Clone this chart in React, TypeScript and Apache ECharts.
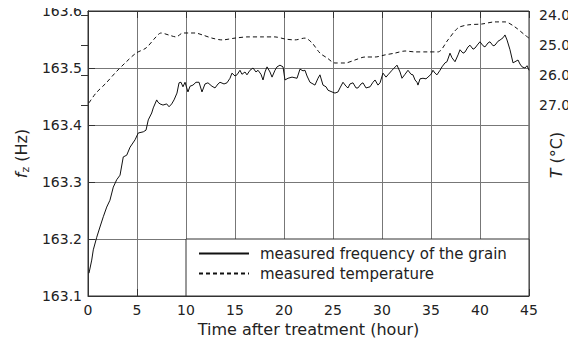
import React, { useEffect, useRef } from "react";
import * as echarts from "echarts";

// Measured resonance frequency of the grain (hour, Hz)
const freqHours = [
  0.1, 0.38, 0.54, 0.89, 1.22, 1.56, 1.91, 2.24, 2.58, 2.93, 3.27, 3.6, 3.95, 4.29, 4.8,
  5.13, 5.64, 5.92, 6.15, 6.5, 6.66, 7.01, 7.14, 7.35, 7.65, 8.03, 8.27, 8.54, 8.78, 9.08,
  9.29, 9.49, 9.69, 9.9, 10.2, 10.41, 10.71, 11.02, 11.33, 11.63, 11.94, 12.24, 12.65,
  12.96, 13.27, 13.47, 13.88, 14.18, 14.49, 14.69, 15.0, 15.2, 15.51, 15.71, 16.02, 16.22,
  16.53, 16.84, 17.14, 17.35, 17.65, 17.86, 18.06, 18.27, 18.57, 18.78, 19.08, 19.29,
  19.59, 19.9, 20.1, 20.41, 20.82, 21.33, 21.63, 21.94, 22.14, 22.35, 22.65, 22.96, 23.16,
  23.47, 23.67, 23.98, 24.29, 24.49, 24.9, 25.2, 25.51, 25.71, 26.02, 26.33, 26.53, 26.73,
  27.04, 27.35, 27.55, 27.86, 28.06, 28.37, 28.78, 29.08, 29.29, 29.59, 29.8, 30.1, 30.41,
  30.61, 31.02, 31.53, 31.84, 32.04, 32.35, 32.65, 32.96, 33.16, 33.37, 33.57, 33.67,
  33.88, 34.18, 34.49, 34.69, 35.0, 35.2, 35.41, 35.61, 35.92, 36.12, 36.43, 36.63, 36.94,
  37.14, 37.45, 37.76, 37.96, 38.27, 38.47, 38.78, 38.98, 39.29, 39.49, 39.8, 40.0, 40.31,
  40.51, 40.82, 41.02, 41.33, 41.53, 41.84, 42.04, 42.35, 42.55, 42.76, 43.06, 43.37,
  43.57, 43.88, 44.08, 44.29, 44.59, 44.8, 45.0,
];
const freqValues = [
  163.14, 163.163, 163.181, 163.203, 163.221, 163.239, 163.256, 163.268, 163.291, 163.304,
  163.312, 163.344, 163.347, 163.361, 163.374, 163.386, 163.388, 163.391, 163.409, 163.421,
  163.43, 163.444, 163.44, 163.437, 163.435, 163.437, 163.432, 163.437, 163.444, 163.456,
  163.474, 163.475, 163.467, 163.475, 163.458, 163.468, 163.47, 163.475, 163.475, 163.458,
  163.472, 163.474, 163.468, 163.465, 163.472, 163.475, 163.472, 163.474, 163.482, 163.491,
  163.486, 163.488, 163.496, 163.489, 163.493, 163.488, 163.496, 163.5, 163.493, 163.496,
  163.489, 163.479, 163.493, 163.502, 163.493, 163.484, 163.496, 163.502, 163.505, 163.502,
  163.479, 163.482, 163.484, 163.482, 163.498, 163.495, 163.496, 163.486, 163.475, 163.472,
  163.47, 163.482, 163.488, 163.47, 163.467, 163.461, 163.458, 163.456, 163.458, 163.465,
  163.475, 163.468, 163.465, 163.472, 163.474, 163.465, 163.465, 163.472, 163.474, 163.465,
  163.467, 163.475, 163.479, 163.47, 163.474, 163.491, 163.484, 163.488, 163.496, 163.505,
  163.493, 163.482, 163.489, 163.496, 163.489, 163.488, 163.479, 163.475, 163.47, 163.481,
  163.482, 163.481, 163.484, 163.489, 163.496, 163.491, 163.488, 163.496, 163.502, 163.509,
  163.511, 163.526, 163.518, 163.511, 163.523, 163.532, 163.526, 163.528, 163.537, 163.54,
  163.533, 163.535, 163.542, 163.546, 163.539, 163.537, 163.544, 163.546, 163.539, 163.54,
  163.547, 163.549, 163.553, 163.558, 163.549, 163.532, 163.509, 163.511, 163.514, 163.507,
  163.502, 163.5, 163.504, 163.496,
];

// Measured temperature (hour, °C)
const tempHours = [
  0.1, 0.82, 1.84, 2.86, 3.88, 4.9, 5.92, 6.94, 7.45, 8.27, 8.98, 9.69, 10.31, 10.92, 11.73,
  12.65, 13.67, 15.0, 16.33, 17.76, 19.08, 20.1, 21.12, 22.14, 22.86, 23.67, 24.39, 25.2,
  26.22, 27.24, 28.27, 29.29, 30.31, 31.33, 32.35, 33.37, 34.69, 35.71, 36.73, 37.76, 38.78,
  40.2, 41.53, 42.55, 43.57, 44.59, 45.0,
];
const tempValues = [
  26.93, 26.6, 26.27, 25.9, 25.57, 25.27, 25.1, 24.73, 24.6, 24.67, 24.73, 24.6, 24.6, 24.6,
  24.67, 24.77, 24.83, 24.77, 24.73, 24.73, 24.73, 24.8, 24.83, 24.77, 24.93, 25.27, 25.43,
  25.6, 25.6, 25.5, 25.4, 25.4, 25.33, 25.27, 25.2, 25.23, 25.23, 25.23, 24.83, 24.43, 24.33,
  24.3, 24.23, 24.23, 24.4, 24.67, 24.77,
];

const tempTicks = [24, 25, 26, 27];
const seriesNames = ["measured frequency of the grain", "measured temperature"];

const FONT = "DejaVu Sans";
const INK = "#222";
const GRID = "#777";

export default function App() {
  const ref = useRef<HTMLDivElement>(null);

  useEffect(() => {
    if (!ref.current) return;
    const chart = echarts.init(ref.current, null, { renderer: "svg" });

    const freqData = freqHours.map((h, i) => [h, freqValues[i]]);
    const tempData = tempHours.map((h, i) => [h, tempValues[i]]);

    chart.setOption({
      animation: false,
      backgroundColor: "#fff",
      textStyle: { fontFamily: FONT, color: INK },
      grid: {
        left: 88,
        right: 47,
        top: 11,
        bottom: 50,
        show: true,
        borderColor: "#333",
        borderWidth: 1,
        backgroundColor: "transparent",
      },
      xAxis: [
        {
          type: "value",
          min: 0,
          max: 45,
          interval: 5,
          position: "bottom",
          name: "Time after treatment (hour)",
          nameLocation: "middle",
          nameGap: 24,
          nameTextStyle: { fontSize: 16, color: INK, fontFamily: FONT },
          axisLine: { show: true, lineStyle: { color: "#333" } },
          axisTick: { show: true, inside: true, length: 7, lineStyle: { color: "#333" } },
          axisLabel: { fontSize: 14, color: INK, margin: 7, fontFamily: FONT },
          splitLine: { show: true, lineStyle: { color: GRID, width: 1 } },
        },
        {
          type: "value",
          min: 0,
          max: 45,
          interval: 5,
          position: "top",
          axisLine: { show: true, lineStyle: { color: "#333" } },
          axisTick: { show: true, inside: true, length: 7, lineStyle: { color: "#333" } },
          axisLabel: { show: false },
          splitLine: { show: false },
        },
      ],
      yAxis: [
        {
          type: "value",
          min: 163.1,
          max: 163.6,
          interval: 0.1,
          position: "left",
          name: "{i|f}{s|z} (Hz)",
          nameLocation: "middle",
          nameGap: 54,
          nameTextStyle: {
            fontSize: 16,
            color: INK,
            fontFamily: FONT,
            rich: {
              i: { fontStyle: "italic", fontSize: 16, fontFamily: FONT, color: INK },
              s: { fontSize: 11, fontFamily: FONT, color: INK, padding: [8, 0, 0, 0] },
            },
          },
          axisLine: { show: true, lineStyle: { color: "#333" } },
          axisTick: { show: true, inside: true, length: 7, lineStyle: { color: "#333" } },
          axisLabel: {
            fontSize: 14,
            color: INK,
            margin: 6,
            fontFamily: FONT,
            formatter: (v: number) => v.toFixed(1),
          },
          splitLine: { show: true, lineStyle: { color: GRID, width: 1 } },
        },
        {
          type: "value",
          inverse: true,
          min: 23.8667,
          max: 33.3667,
          position: "right",
          axisLine: { show: true, lineStyle: { color: "#333" } },
          axisTick: {
            show: true,
            inside: true,
            length: 7,
            customValues: tempTicks,
            lineStyle: { color: "#333" },
          },
          axisLabel: {
            fontSize: 14,
            color: INK,
            margin: 10,
            fontFamily: FONT,
            customValues: tempTicks,
            formatter: (v: number) => v.toFixed(1),
          },
          splitLine: { show: false },
        },
      ],
      legend: {
        orient: "vertical",
        left: 198,
        top: 246,
        padding: 0,
        itemWidth: 50,
        itemHeight: 14,
        itemGap: 5,
        z: 5,
        data: seriesNames,
        itemStyle: { opacity: 0 },
        textStyle: { fontSize: 15, color: INK, fontFamily: FONT, padding: [0, 0, 0, 6] },
      },
      graphic: [
        {
          type: "rect",
          z: 3,
          shape: { x: 186, y: 239, width: 343, height: 57 },
          style: { fill: "#fff", stroke: "#333", lineWidth: 1 },
        },
        {
          type: "text",
          x: 556,
          y: 155,
          rotation: Math.PI / 2,
          style: {
            text: "{i|T} (°C)",
            align: "center",
            verticalAlign: "middle",
            fontSize: 16,
            fontFamily: FONT,
            fill: INK,
            rich: {
              i: { fontStyle: "italic", fontSize: 16, fontFamily: FONT, fill: INK },
            },
          },
        },
      ],
      series: [
        {
          name: seriesNames[0],
          type: "line",
          xAxisIndex: 0,
          yAxisIndex: 0,
          data: freqData,
          symbol: "none",
          showSymbol: false,
          lineStyle: { color: "#111", width: 1 },
          itemStyle: { color: "#111" },
        },
        {
          name: seriesNames[1],
          type: "line",
          xAxisIndex: 0,
          yAxisIndex: 1,
          data: tempData,
          symbol: "none",
          showSymbol: false,
          smooth: 0.3,
          lineStyle: { color: "#111", width: 1, type: [4, 3] },
          itemStyle: { color: "#111" },
        },
      ],
    });

    return () => chart.dispose();
  }, []);

  return <div ref={ref} style={{ width: 576, height: 346, margin: -8 }} />;
}
